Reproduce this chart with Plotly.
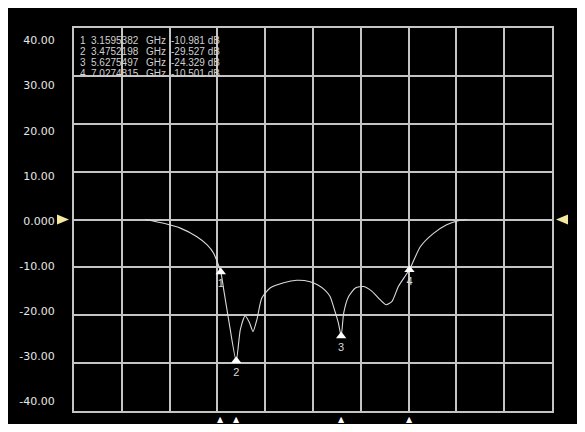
import plotly.graph_objects as go

# ---- data ----
freq_ghz = [1.61, 1.99, 2.33, 2.67, 2.88, 3.01, 3.1595382, 3.22, 3.32, 3.4752198,
            3.56, 3.66, 3.75, 3.82, 3.90, 4.00, 4.17, 4.45, 4.72, 4.99,
            5.15, 5.30, 5.40, 5.47, 5.57, 5.6275497, 5.68, 5.78, 5.92, 6.09,
            6.26, 6.43, 6.55, 6.67, 6.80, 6.94, 7.0274815, 7.25, 7.52, 7.79,
            8.00, 8.20]
s21_db = [0.0, -0.8, -1.8, -3.6, -5.3, -7.0, -10.981, -14.7, -20.9, -29.527,
          -23.0, -20.1, -21.6, -23.4, -20.9, -16.4, -14.3, -13.2, -12.7, -13.0,
          -13.7, -14.8, -16.1, -18.2, -21.6, -24.329, -19.5, -16.1, -14.3, -14.0,
          -15.0, -16.8, -17.8, -17.1, -14.0, -11.8, -10.501, -5.7, -2.9, -1.1,
          -0.3, 0.0]

marker_ids = ["1", "2", "3", "4"]
marker_freqs = [3.1595382, 3.4752198, 5.6275497, 7.0274815]
marker_vals = [-10.981, -29.527, -24.329, -10.501]

ref_level_db = 0

y_tick_vals = [40, 30, 20, 10, 0, -10, -20, -30, -40]
y_tick_text = ["40.00", "30.00", "20.00", "10.00", "0.000", "-10.00", "-20.00", "-30.00", "-40.00"]

# ---- layout constants (page body adds an 8px offset) ----
OFF = 8
X_MIN, X_MAX = 0.15, 9.95
Y_MIN, Y_MAX = -40, 40
W, H = 585 - OFF, 432 - 2 * OFF
PLOT_L, PLOT_R, PLOT_T, PLOT_B = 73.5, 552, 27.5, 411.5   # window px
ML, MT = PLOT_L - OFF, PLOT_T - OFF
MR = W - (PLOT_R - OFF)
MB = H - (PLOT_B - OFF)
PW, PH = PLOT_R - PLOT_L, PLOT_B - PLOT_T
GRID = "#c4c4c4"
TXT = "#e6e6e6"
REF = "#f3e9a0"

xspan = X_MAX - X_MIN
xgrid = [X_MIN + xspan * i / 10 for i in range(11)]

fig = go.Figure()

fig.add_trace(go.Scatter(
    x=freq_ghz, y=s21_db, mode="lines",
    line=dict(color="#dadada", width=1.1, shape="spline", smoothing=0.6),
    showlegend=False, hoverinfo="skip"))

# markers on the trace
fig.add_trace(go.Scatter(
    x=marker_freqs, y=marker_vals, mode="markers+text",
    marker=dict(symbol="triangle-up", size=9, color="white"),
    text=marker_ids, textposition="bottom center",
    textfont=dict(family="Liberation Sans", size=11, color="#d8d8d8"),
    showlegend=False, hoverinfo="skip", cliponaxis=False))

# invisible trace for the label axis
fig.add_trace(go.Scatter(x=[None], y=[None], yaxis="y2", showlegend=False,
                         hoverinfo="skip"))

annotations = []
# marker table
for i, (mid, f, v) in enumerate(zip(marker_ids, marker_freqs, marker_vals)):
    ypx = 40 + 11 * i
    yp = (PLOT_B - ypx) / PH
    cols = [(78, mid), (89, f"{f:.7f}"), (144, "GHz"), (169, f"{v:.3f} dB")]
    for xpx, t in cols:
        annotations.append(dict(
            x=(xpx - PLOT_L) / PW, y=yp, xref="paper", yref="paper",
            text=t, showarrow=False, xanchor="left", yanchor="middle",
            font=dict(family="Liberation Sans", size=10, color="#d0d0d0")))

# marker position ticks below the axis
for f in marker_freqs:
    annotations.append(dict(
        x=f, y=0, xref="x", yref="paper", text="▲", showarrow=False,
        xanchor="center", yanchor="middle", yshift=-8,
        font=dict(family="DejaVu Sans", size=8, color="white")))

# reference level arrows at 0 dB
ref_pos = (ref_level_db - Y_MIN) / (Y_MAX - Y_MIN)
shapes = [
    dict(type="path", xref="paper", yref="paper", xsizemode="pixel", ysizemode="pixel",
         xanchor=0, yanchor=ref_pos, path="M -17,5 L -5,0 L -17,-5 Z",
         fillcolor=REF, line=dict(width=0), layer="above"),
    dict(type="path", xref="paper", yref="paper", xsizemode="pixel", ysizemode="pixel",
         xanchor=1, yanchor=ref_pos, path="M 4,0 L 16,5 L 16,-5 Z",
         fillcolor=REF, line=dict(width=0), layer="above"),
]

# label axis range: labels are spaced slightly tighter than the grid
lab_top, lab_bot = 42.76, -42.10

fig.update_layout(
    width=W, height=H,
    margin=dict(l=ML, r=MR, t=MT, b=MB, pad=0),
    paper_bgcolor="black", plot_bgcolor="black",
    xaxis=dict(range=[X_MIN, X_MAX], tickmode="array", tickvals=xgrid,
               showticklabels=False, ticks="", showgrid=True,
               gridcolor=GRID, gridwidth=1.5, zeroline=False,
               showline=True, linecolor=GRID, linewidth=1.5, mirror=True),
    yaxis=dict(range=[Y_MIN, Y_MAX], tickmode="array", tickvals=y_tick_vals,
               showticklabels=False, ticks="", showgrid=True,
               gridcolor=GRID, gridwidth=1.5, zeroline=False,
               showline=True, linecolor=GRID, linewidth=1.5, mirror=True),
    yaxis2=dict(range=[lab_bot, lab_top], overlaying="y", side="left",
                tickmode="array", tickvals=y_tick_vals, ticktext=y_tick_text,
                showgrid=False, zeroline=False, showline=False,
                ticks="outside", ticklen=16, tickcolor="rgba(0,0,0,0)",
                tickfont=dict(family="DejaVu Sans", size=11, color=TXT)),
    annotations=annotations, shapes=shapes,
    showlegend=False,
)

fig.write_html("out.html")
